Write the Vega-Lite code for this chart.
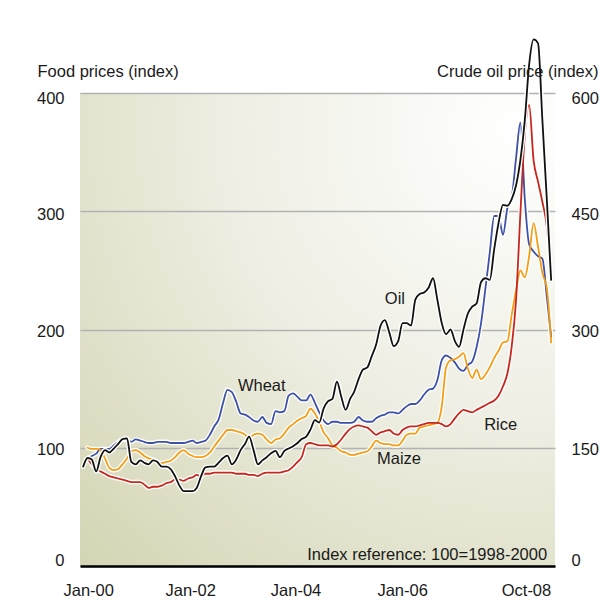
{
  "$schema": "https://vega.github.io/schema/vega-lite/v6.json",
  "width": 475,
  "height": 473,
  "autosize": {"type": "none"},
  "padding": {"left": 80, "top": 93, "right": 61, "bottom": 49},
  "background": "white",
  "config": {
    "font": "Liberation Sans",
    "view": {
      "stroke": null,
      "fill": {
        "gradient": "radial",
        "x1": 0.92, "y1": 0.08, "r1": 0,
        "x2": 0.92, "y2": 0.08, "r2": 1.3,
        "stops": [
          {"offset": 0, "color": "#ffffff"},
          {"offset": 0.45, "color": "#efefe5"},
          {"offset": 1, "color": "#d4d5b3"}
        ]
      }
    },
    "axis": {
      "labelFont": "Liberation Sans",
      "titleFont": "Liberation Sans",
      "labelFontSize": 16.5,
      "titleFontSize": 16.5,
      "labelColor": "#1a1a1a",
      "titleColor": "#1a1a1a",
      "titleFontWeight": "normal"
    }
  },
  "datasets": {
    "series": [
      {"date": "2000-01-01", "wheat": null, "maize": null, "rice": null, "oil": 126},
      {"date": "2000-02-01", "wheat": 91, "maize": 100, "rice": 91, "oil": 137},
      {"date": "2000-03-01", "wheat": 93, "maize": 99, "rice": 86, "oil": 135},
      {"date": "2000-04-01", "wheat": 95, "maize": 99, "rice": 82, "oil": 120},
      {"date": "2000-05-01", "wheat": 99, "maize": 98, "rice": 80, "oil": 138},
      {"date": "2000-06-01", "wheat": 99, "maize": 91, "rice": 78, "oil": 147},
      {"date": "2000-07-01", "wheat": 99, "maize": 83, "rice": 76, "oil": 144},
      {"date": "2000-08-01", "wheat": 102, "maize": 81, "rice": 75, "oil": 149},
      {"date": "2000-09-01", "wheat": 105, "maize": 82, "rice": 74, "oil": 155},
      {"date": "2000-10-01", "wheat": 107, "maize": 86, "rice": 73, "oil": 161},
      {"date": "2000-11-01", "wheat": 107, "maize": 91, "rice": 72, "oil": 162},
      {"date": "2000-12-01", "wheat": 105, "maize": 97, "rice": 71, "oil": 132},
      {"date": "2001-01-01", "wheat": 107, "maize": 98, "rice": 71, "oil": 129},
      {"date": "2001-02-01", "wheat": 106, "maize": 96, "rice": 71, "oil": 134},
      {"date": "2001-03-01", "wheat": 105, "maize": 93, "rice": 69, "oil": 131},
      {"date": "2001-04-01", "wheat": 104, "maize": 91, "rice": 66, "oil": 129},
      {"date": "2001-05-01", "wheat": 104, "maize": 90, "rice": 67, "oil": 134},
      {"date": "2001-06-01", "wheat": 105, "maize": 88, "rice": 67, "oil": 132},
      {"date": "2001-07-01", "wheat": 105, "maize": 87, "rice": 68, "oil": 126},
      {"date": "2001-08-01", "wheat": 105, "maize": 88, "rice": 70, "oil": 126},
      {"date": "2001-09-01", "wheat": 104, "maize": 89, "rice": 71, "oil": 123},
      {"date": "2001-10-01", "wheat": 104, "maize": 92, "rice": 73, "oil": 114},
      {"date": "2001-11-01", "wheat": 104, "maize": 96, "rice": 73, "oil": 102},
      {"date": "2001-12-01", "wheat": 104, "maize": 98, "rice": 72, "oil": 95},
      {"date": "2002-01-01", "wheat": 105, "maize": 95, "rice": 74, "oil": 95},
      {"date": "2002-02-01", "wheat": 106, "maize": 93, "rice": 75, "oil": 95},
      {"date": "2002-03-01", "wheat": 104, "maize": 92, "rice": 77, "oil": 99},
      {"date": "2002-04-01", "wheat": 105, "maize": 92, "rice": 76, "oil": 114},
      {"date": "2002-05-01", "wheat": 106, "maize": 93, "rice": 78, "oil": 125},
      {"date": "2002-06-01", "wheat": 111, "maize": 96, "rice": 78, "oil": 126},
      {"date": "2002-07-01", "wheat": 118, "maize": 101, "rice": 79, "oil": 126},
      {"date": "2002-08-01", "wheat": 124, "maize": 106, "rice": 79, "oil": 131},
      {"date": "2002-09-01", "wheat": 138, "maize": 111, "rice": 79, "oil": 137},
      {"date": "2002-10-01", "wheat": 149, "maize": 115, "rice": 79, "oil": 140},
      {"date": "2002-11-01", "wheat": 147, "maize": 115, "rice": 79, "oil": 129},
      {"date": "2002-12-01", "wheat": 139, "maize": 114, "rice": 78, "oil": 135},
      {"date": "2003-01-01", "wheat": 129, "maize": 113, "rice": 78, "oil": 147},
      {"date": "2003-02-01", "wheat": 128, "maize": 111, "rice": 78, "oil": 155},
      {"date": "2003-03-01", "wheat": 126, "maize": 108, "rice": 77, "oil": 164},
      {"date": "2003-04-01", "wheat": 123, "maize": 111, "rice": 77, "oil": 147},
      {"date": "2003-05-01", "wheat": 122, "maize": 112, "rice": 76, "oil": 129},
      {"date": "2003-06-01", "wheat": 126, "maize": 111, "rice": 78, "oil": 134},
      {"date": "2003-07-01", "wheat": 121, "maize": 107, "rice": 79, "oil": 138},
      {"date": "2003-08-01", "wheat": 120, "maize": 104, "rice": 79, "oil": 143},
      {"date": "2003-09-01", "wheat": 131, "maize": 107, "rice": 79, "oil": 146},
      {"date": "2003-10-01", "wheat": 130, "maize": 108, "rice": 79, "oil": 138},
      {"date": "2003-11-01", "wheat": 131, "maize": 112, "rice": 80, "oil": 146},
      {"date": "2003-12-01", "wheat": 144, "maize": 117, "rice": 81, "oil": 149},
      {"date": "2004-01-01", "wheat": 146, "maize": 120, "rice": 84, "oil": 152},
      {"date": "2004-02-01", "wheat": 143, "maize": 123, "rice": 88, "oil": 156},
      {"date": "2004-03-01", "wheat": 140, "maize": 125, "rice": 92, "oil": 161},
      {"date": "2004-04-01", "wheat": 140, "maize": 127, "rice": 103, "oil": 164},
      {"date": "2004-05-01", "wheat": 145, "maize": 133, "rice": 104, "oil": 173},
      {"date": "2004-06-01", "wheat": 138, "maize": 129, "rice": 103, "oil": 185},
      {"date": "2004-07-01", "wheat": 130, "maize": 122, "rice": 102, "oil": 182},
      {"date": "2004-08-01", "wheat": 123, "maize": 113, "rice": 102, "oil": 200},
      {"date": "2004-09-01", "wheat": 120, "maize": 108, "rice": 102, "oil": 209},
      {"date": "2004-10-01", "wheat": 122, "maize": 102, "rice": 101, "oil": 212},
      {"date": "2004-11-01", "wheat": 122, "maize": 100, "rice": 103, "oil": 234},
      {"date": "2004-12-01", "wheat": 121, "maize": 97, "rice": 107, "oil": 215},
      {"date": "2005-01-01", "wheat": 121, "maize": 96, "rice": 112, "oil": 198},
      {"date": "2005-02-01", "wheat": 121, "maize": 94, "rice": 116, "oil": 212},
      {"date": "2005-03-01", "wheat": 122, "maize": 94, "rice": 118, "oil": 221},
      {"date": "2005-04-01", "wheat": 126, "maize": 95, "rice": 119, "oil": 237},
      {"date": "2005-05-01", "wheat": 123, "maize": 96, "rice": 118, "oil": 249},
      {"date": "2005-06-01", "wheat": 122, "maize": 97, "rice": 117, "oil": 252},
      {"date": "2005-07-01", "wheat": 122, "maize": 101, "rice": 114, "oil": 266},
      {"date": "2005-08-01", "wheat": 125, "maize": 106, "rice": 111, "oil": 281},
      {"date": "2005-09-01", "wheat": 127, "maize": 104, "rice": 113, "oil": 305},
      {"date": "2005-10-01", "wheat": 128, "maize": 103, "rice": 114, "oil": 312},
      {"date": "2005-11-01", "wheat": 130, "maize": 103, "rice": 115, "oil": 296},
      {"date": "2005-12-01", "wheat": 130, "maize": 102, "rice": 112, "oil": 279},
      {"date": "2006-01-01", "wheat": 129, "maize": 102, "rice": 111, "oil": 285},
      {"date": "2006-02-01", "wheat": 132, "maize": 106, "rice": 115, "oil": 308},
      {"date": "2006-03-01", "wheat": 135, "maize": 111, "rice": 117, "oil": 308},
      {"date": "2006-04-01", "wheat": 137, "maize": 112, "rice": 118, "oil": 305},
      {"date": "2006-05-01", "wheat": 137, "maize": 112, "rice": 118, "oil": 338},
      {"date": "2006-06-01", "wheat": 140, "maize": 117, "rice": 119, "oil": 345},
      {"date": "2006-07-01", "wheat": 145, "maize": 118, "rice": 120, "oil": 347},
      {"date": "2006-08-01", "wheat": 149, "maize": 119, "rice": 121, "oil": 353},
      {"date": "2006-09-01", "wheat": 150, "maize": 120, "rice": 121, "oil": 365},
      {"date": "2006-10-01", "wheat": 157, "maize": 121, "rice": 121, "oil": 338},
      {"date": "2006-11-01", "wheat": 174, "maize": 135, "rice": 120, "oil": 308},
      {"date": "2006-12-01", "wheat": 178, "maize": 168, "rice": 118, "oil": 294},
      {"date": "2007-01-01", "wheat": 176, "maize": 174, "rice": 120, "oil": 300},
      {"date": "2007-02-01", "wheat": 172, "maize": 175, "rice": 125, "oil": 285},
      {"date": "2007-03-01", "wheat": 167, "maize": 177, "rice": 129, "oil": 278},
      {"date": "2007-04-01", "wheat": 165, "maize": 180, "rice": 132, "oil": 300},
      {"date": "2007-05-01", "wheat": 170, "maize": 167, "rice": 131, "oil": 320},
      {"date": "2007-06-01", "wheat": 173, "maize": 159, "rice": 130, "oil": 329},
      {"date": "2007-07-01", "wheat": 185, "maize": 166, "rice": 132, "oil": 333},
      {"date": "2007-08-01", "wheat": 205, "maize": 158, "rice": 134, "oil": 360},
      {"date": "2007-09-01", "wheat": 235, "maize": 162, "rice": 136, "oil": 365},
      {"date": "2007-10-01", "wheat": 265, "maize": 168, "rice": 138, "oil": 363},
      {"date": "2007-11-01", "wheat": 296, "maize": 176, "rice": 140, "oil": 402},
      {"date": "2007-12-01", "wheat": 296, "maize": 182, "rice": 144, "oil": 435},
      {"date": "2008-01-01", "wheat": 280, "maize": 189, "rice": 152, "oil": 458},
      {"date": "2008-02-01", "wheat": 303, "maize": 190, "rice": 163, "oil": 457},
      {"date": "2008-03-01", "wheat": 311, "maize": 212, "rice": 185, "oil": 465},
      {"date": "2008-04-01", "wheat": 345, "maize": 233, "rice": 225, "oil": 483},
      {"date": "2008-05-01", "wheat": 375, "maize": 250, "rice": 298, "oil": 515},
      {"date": "2008-06-01", "wheat": 310, "maize": 244, "rice": 365, "oil": 566},
      {"date": "2008-07-01", "wheat": 272, "maize": 262, "rice": 390, "oil": 636},
      {"date": "2008-08-01", "wheat": 266, "maize": 290, "rice": 343, "oil": 668},
      {"date": "2008-09-01", "wheat": 262, "maize": 270, "rice": 325, "oil": 663},
      {"date": "2008-10-01", "wheat": 260, "maize": 248, "rice": 308, "oil": 566},
      {"date": "2008-11-01", "wheat": 228, "maize": 235, "rice": 287, "oil": 465},
      {"date": "2008-12-01", "wheat": 194, "maize": 189, "rice": 242, "oil": 363}
    ],
    "labels": [
      {"label": "Wheat", "date": "2003-05-28", "value": 152.4},
      {"label": "Oil", "date": "2005-12-10", "value": 226},
      {"label": "Rice", "date": "2007-12-16", "value": 119.4},
      {"label": "Maize", "date": "2006-01-07", "value": 90.7}
    ],
    "notes": [
      {"label": "Index reference: 100=1998-2000", "date": "2008-11-03", "value": 9.5}
    ]
  },
  "encoding": {
    "x": {
      "field": "date",
      "type": "temporal",
      "scale": {
        "type": "utc",
        "domain": [
          {"year": 1999, "month": 12, "date": 10, "utc": true},
          {"year": 2008, "month": 12, "date": 28, "utc": true}
        ]
      },
      "axis": {
        "title": null,
        "values": [
          {"year": 2000, "month": 2, "date": 5, "utc": true},
          {"year": 2002, "month": 1, "date": 15, "utc": true},
          {"year": 2004, "month": 1, "date": 18, "utc": true},
          {"year": 2006, "month": 1, "date": 29, "utc": true},
          {"year": 2008, "month": 6, "date": 9, "utc": true}
        ],
        "labelExpr": "utcyear(datum.value) == 2008 ? 'Oct-08' : 'Jan-' + utcFormat(datum.value, '%y')",
        "labelAlign": "center",
        "labelBaseline": "top",
        "labelPadding": 16,
        "ticks": false,
        "grid": false,
        "domain": true,
        "domainColor": "#000000",
        "domainWidth": 2.5,
        "labelFlush": false,
        "labelOverlap": false,
        "zindex": 1
      }
    }
  },
  "layer": [
    {
      "layer": [
        {
          "data": {"name": "series"},
          "transform": [{"fold": ["wheat", "maize", "rice"], "as": ["series", "value"]}],
          "mark": {"type": "line", "color": "#ffffff", "strokeWidth": 4.5, "interpolate": "monotone", "strokeJoin": "round", "strokeCap": "round"},
          "encoding": {
            "y": {
              "field": "value",
              "type": "quantitative",
              "scale": {"domain": [0, 400], "nice": false, "zero": true},
              "axis": {
                "orient": "left",
                "values": [0, 100, 200, 300, 400],
                "title": "Food prices (index)",
                "titleAngle": 0,
                "titleAlign": "left",
                "titleBaseline": "middle",
                "titleX": -43,
                "titleY": -22,
                "labelAlign": "right",
                "labelPadding": 16,
                "labelOffset": {
                  "condition": [
                    {"test": "datum.value === 400", "value": 5.5},
                    {"test": "datum.value === 300", "value": 3.5},
                    {"test": "datum.value === 0", "value": -5.5}
                  ],
                  "value": 2
                },
                "ticks": false,
                "domain": false,
                "grid": true,
                "gridColor": "#b2b2b2",
                "gridWidth": 1.5
              }
            },
            "detail": {"field": "series"}
          }
        },
        {
          "data": {"name": "series"},
          "transform": [{"fold": ["wheat", "maize", "rice"], "as": ["series", "value"]}],
          "mark": {"type": "line", "strokeWidth": 1.8, "interpolate": "monotone", "strokeJoin": "round", "strokeCap": "round"},
          "encoding": {
            "y": {"field": "value", "type": "quantitative"},
            "color": {
              "field": "series",
              "type": "nominal",
              "scale": {"domain": ["wheat", "maize", "rice"], "range": ["#3e51a8", "#f59d14", "#c8261b"]},
              "legend": null
            }
          }
        },
        {
          "data": {"name": "labels"},
          "mark": {"type": "text", "fontSize": 16.5, "font": "Liberation Sans", "color": "#1a1a1a", "baseline": "middle", "align": "center"},
          "encoding": {
            "y": {"field": "value", "type": "quantitative"},
            "text": {"field": "label"}
          }
        },
        {
          "data": {"name": "notes"},
          "mark": {"type": "text", "fontSize": 16.5, "font": "Liberation Sans", "color": "#1a1a1a", "baseline": "middle", "align": "right"},
          "encoding": {
            "y": {"field": "value", "type": "quantitative"},
            "text": {"field": "label"}
          }
        }
      ]
    },
    {
      "data": {"name": "series"},
      "layer": [
        {
          "mark": {"type": "line", "color": "#ffffff", "strokeWidth": 4.5, "interpolate": "monotone", "strokeJoin": "round", "strokeCap": "round"},
          "encoding": {
            "y": {
              "field": "oil",
              "type": "quantitative",
              "scale": {"domain": [0, 600], "nice": false, "zero": true},
              "axis": {
                "orient": "right",
                "values": [0, 150, 300, 450, 600],
                "title": "Crude oil price (index)",
                "titleAngle": 0,
                "titleAlign": "right",
                "titleBaseline": "middle",
                "titleX": 43,
                "titleY": -22,
                "labelAlign": "left",
                "labelPadding": 16,
                "labelOffset": {
                  "condition": [
                    {"test": "datum.value === 600", "value": 5.5},
                    {"test": "datum.value === 450", "value": 3.5},
                    {"test": "datum.value === 0", "value": -5.5}
                  ],
                  "value": 2
                },
                "ticks": false,
                "domain": false,
                "grid": false,
                "zindex": 1
              }
            }
          }
        },
        {
          "mark": {"type": "line", "color": "#111111", "strokeWidth": 1.8, "interpolate": "monotone", "strokeJoin": "round", "strokeCap": "round"},
          "encoding": {
            "y": {"field": "oil", "type": "quantitative"}
          }
        }
      ]
    }
  ],
  "resolve": {"scale": {"y": "independent"}}
}
